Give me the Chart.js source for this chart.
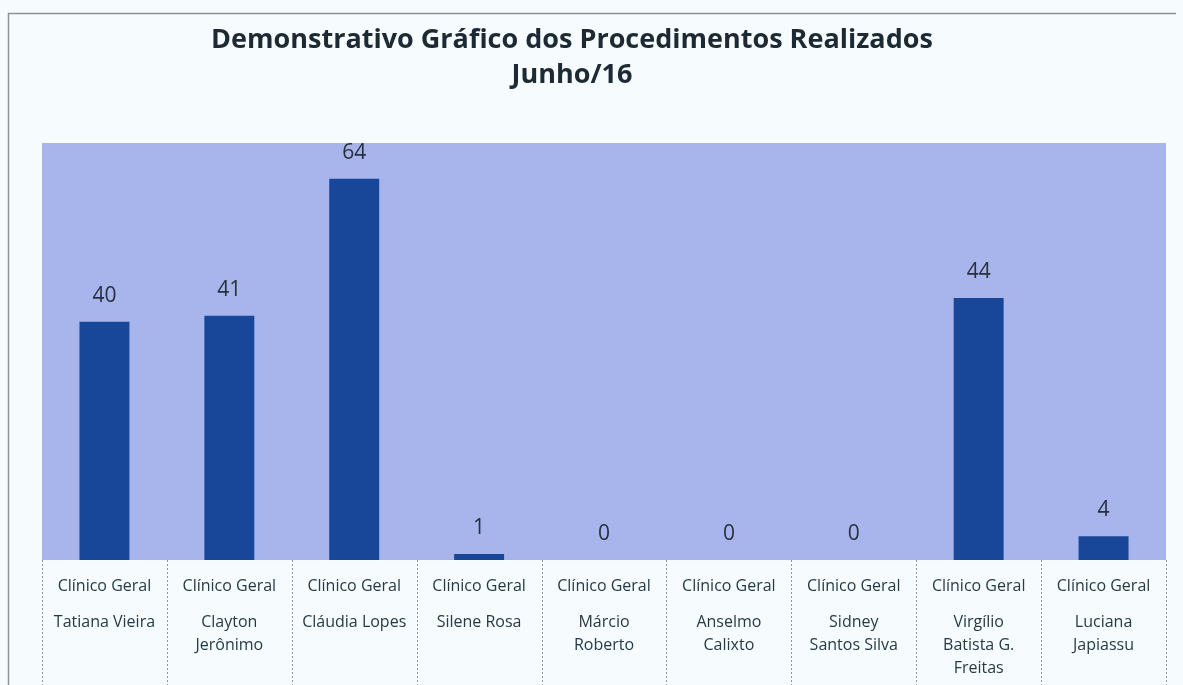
<!DOCTYPE html>
<html lang="pt">
  <head>
    <meta charset="UTF-8" />
    <title>Procedimentos Realizados</title>
    <script src="https://cdn.jsdelivr.net/npm/chart.js"></script>
    <style>
      html, body { margin: 0; padding: 0; background: #f6fcfd; }
      .container { position: relative; width: 1183px; height: 685px; }
    </style>
    <script>
      const titleLines = ["Demonstrativo Gráfico dos Procedimentos Realizados", "Junho/16"];
      const specialty = "Clínico Geral";
      const professionals = [
        ["Tatiana Vieira"],
        ["Clayton", "Jerônimo"],
        ["Cláudia Lopes"],
        ["Silene Rosa"],
        ["Márcio", "Roberto"],
        ["Anselmo", "Calixto"],
        ["Sidney", "Santos Silva"],
        ["Virgílio", "Batista G.", "Freitas"],
        ["Luciana", "Japiassu"],
      ];
      const procedures = [40, 41, 64, 1, 0, 0, 0, 44, 4];

      // plot background, frame, title, cell separators under the axis and value labels
      const tableLook = {
        id: "tableLook",
        beforeDraw(chart) {
          const { ctx, chartArea } = chart;
          ctx.save();
          ctx.fillStyle = "#a7b5ec";
          ctx.fillRect(chartArea.left, chartArea.top, chartArea.right - chartArea.left, chartArea.bottom - chartArea.top);
          // outer frame
          ctx.strokeStyle = "#8c9298";
          ctx.lineWidth = 1.5;
          ctx.beginPath();
          ctx.moveTo(8.5, chart.height);
          ctx.lineTo(8.5, 13.5);
          ctx.lineTo(1176, 13.5);
          ctx.stroke();
          // title, a bit left of the plot centre like the spreadsheet chart
          ctx.fillStyle = "#1e2a33";
          ctx.font = "bold 27px 'Open Sans'";
          ctx.textAlign = "center";
          ctx.textBaseline = "middle";
          titleLines.forEach((line, i) => ctx.fillText(line, 572, 40 + i * 35));
          ctx.restore();
        },
        afterDraw(chart) {
          const { ctx, chartArea } = chart;
          const x = chart.scales.x;
          const n = chart.data.labels.length;
          ctx.save();
          ctx.strokeStyle = "#8f959a";
          ctx.lineWidth = 1;
          ctx.setLineDash([2, 2]);
          for (let i = 0; i <= n; i++) {
            let px;
            if (i === 0) px = chartArea.left;
            else if (i === n) px = chartArea.right;
            else px = (x.getPixelForValue(i - 1) + x.getPixelForValue(i)) / 2;
            px = Math.round(px) + 0.5;
            ctx.beginPath();
            ctx.moveTo(px, chartArea.bottom);
            ctx.lineTo(px, chart.height);
            ctx.stroke();
          }
          ctx.restore();
        },
        afterDatasetsDraw(chart) {
          const { ctx } = chart;
          const meta = chart.getDatasetMeta(0);
          const values = chart.data.datasets[0].data;
          ctx.save();
          ctx.fillStyle = "#27313b";
          ctx.font = "21px 'Open Sans'";
          ctx.textAlign = "center";
          ctx.textBaseline = "middle";
          meta.data.forEach((bar, i) => {
            ctx.fillText(String(values[i]), bar.x, bar.y - 26);
          });
          ctx.restore();
        },
      };

      document.addEventListener("DOMContentLoaded", function () {
        const ctx = document.getElementById("procedures");
        new Chart(ctx, {
          type: "bar",
          data: {
            labels: professionals.map(() => specialty),
            datasets: [
              {
                label: "Procedimentos",
                data: procedures,
                backgroundColor: "#18479a",
                categoryPercentage: 1,
                barPercentage: 0.4,
              },
            ],
          },
          options: {
            responsive: false,
            animation: false,
            layout: { padding: { top: 143, left: 42, right: 17, bottom: 6 } },
            plugins: {
              legend: { display: false },
              tooltip: { enabled: false },
              title: { display: false },
            },
            scales: {
              y: { display: false, min: 0, max: 70 },
              x: {
                offset: true,
                grid: { display: false, drawTicks: false },
                border: { display: false },
                afterFit: (scale) => { scale.height = 36; },
                ticks: {
                  autoSkip: false,
                  maxRotation: 0,
                  padding: 17,
                  color: "#263a45",
                  font: { family: "'Open Sans'", size: 16, lineHeight: "18px" },
                },
              },
              names: {
                type: "category",
                position: "bottom",
                labels: professionals,
                offset: true,
                grid: { display: false, drawTicks: false },
                border: { display: false },
                afterFit: (scale) => { scale.height = 83; },
                ticks: {
                  autoSkip: false,
                  maxRotation: 0,
                  padding: 15,
                  color: "#263a45",
                  font: { family: "'Open Sans'", size: 16, lineHeight: "23px" },
                },
              },
            },
          },
          plugins: [tableLook],
        });
      });
    </script>
  </head>
  <body>
    <div class="container">
      <canvas id="procedures" width="1183" height="685"></canvas>
    </div>
  </body>
</html>
